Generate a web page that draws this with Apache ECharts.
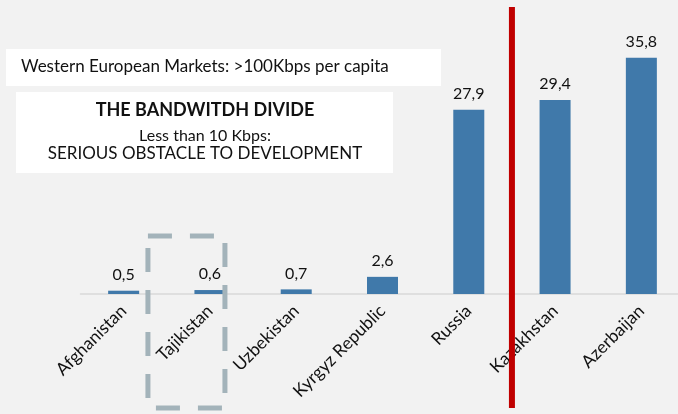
<!DOCTYPE html>
<html>
<head>
<meta charset="utf-8">
<script src="https://cdn.jsdelivr.net/npm/echarts@6/dist/echarts.min.js"></script>
<style>
  html, body { margin: 0; padding: 0; background: #f2f2f2; }
  #chart { width: 678px; height: 414px; }
</style>
</head>
<body>
<div id="chart"></div>
<script>
// bandwidth per capita (Kbps)
const countries = ['Afghanistan', 'Tajikistan', 'Uzbekistan', 'Kyrgyz Republic', 'Russia', 'Kazakhstan', 'Azerbaijan'];
const kbps = [0.5, 0.6, 0.7, 2.6, 27.9, 29.4, 35.8];

const font = 'Lato, "Open Sans", sans-serif';

const chart = echarts.init(document.getElementById('chart'), null, { renderer: 'canvas' });

const option = {
  backgroundColor: '#f2f2f2',
  animation: false,
  grid: {
    left: 80.5,
    top: 30,
    width: 604,
    height: 264,
    containLabel: false,
    outerBoundsMode: 'none'
  },
  xAxis: {
    type: 'category',
    data: countries,
    axisLine: { lineStyle: { color: '#d9d9d9', width: 1.5 } },
    axisTick: { show: false },
    axisLabel: {
      rotate: 45,
      interval: 0,
      margin: 14,
      color: '#111',
      fontFamily: font,
      fontSize: 17.5
    }
  },
  yAxis: {
    type: 'value',
    min: 0,
    max: 40,
    show: false,
    splitLine: { show: false }
  },
  series: [{
    type: 'bar',
    data: kbps,
    barWidth: 31,
    itemStyle: { color: '#4079aa' },
    label: {
      show: true,
      position: 'top',
      distance: 8,
      color: '#111',
      fontFamily: font,
      fontSize: 16,
      formatter: p => String(p.value).replace('.', ',')
    }
  }]
};

chart.setOption(option);

// annotations positioned off the category scale
const xRussia = chart.convertToPixel({ xAxisIndex: 0 }, 'Russia');
const xKaz = chart.convertToPixel({ xAxisIndex: 0 }, 'Kazakhstan');
const xTaj = chart.convertToPixel({ xAxisIndex: 0 }, 'Tajikistan');
const dividerX = (xRussia + xKaz) / 2;

chart.setOption({
  graphic: [
    {
      type: 'rect',
      shape: { x: 6, y: 49, width: 435, height: 37 },
      style: { fill: '#ffffff' },
      z: 10
    },
    {
      type: 'text',
      x: 21, y: 67,
      style: {
        text: 'Western European Markets: >100Kbps per capita',
        font: '17px ' + font,
        fill: '#111',
        verticalAlign: 'middle'
      },
      z: 11
    },
    {
      type: 'rect',
      shape: { x: 16, y: 92, width: 377, height: 81 },
      style: { fill: '#ffffff' },
      z: 10
    },
    {
      type: 'text',
      x: 205, y: 110,
      style: {
        text: 'THE BANDWITDH DIVIDE',
        font: 'bold 18px ' + font,
        fill: '#111',
        align: 'center',
        verticalAlign: 'middle'
      },
      z: 11
    },
    {
      type: 'text',
      x: 205, y: 136,
      style: {
        text: 'Less than 10 Kbps:',
        font: '16px ' + font,
        fill: '#111',
        align: 'center',
        verticalAlign: 'middle'
      },
      z: 11
    },
    {
      type: 'text',
      x: 205, y: 154,
      style: {
        text: 'SERIOUS OBSTACLE TO DEVELOPMENT',
        font: '17px ' + font,
        fill: '#111',
        align: 'center',
        verticalAlign: 'middle'
      },
      z: 11
    },
    {
      type: 'rect',
      shape: { x: xTaj - 62, y: 236, width: 77, height: 172 },
      style: {
        fill: 'none',
        stroke: '#a3b3ba',
        lineWidth: 5,
        lineDash: [24, 18]
      },
      z: 12
    },
    {
      type: 'line',
      shape: { x1: dividerX, y1: 7, x2: dividerX, y2: 408 },
      style: { stroke: '#c00000', lineWidth: 6 },
      z: 13
    }
  ]
});
</script>
</body>
</html>
